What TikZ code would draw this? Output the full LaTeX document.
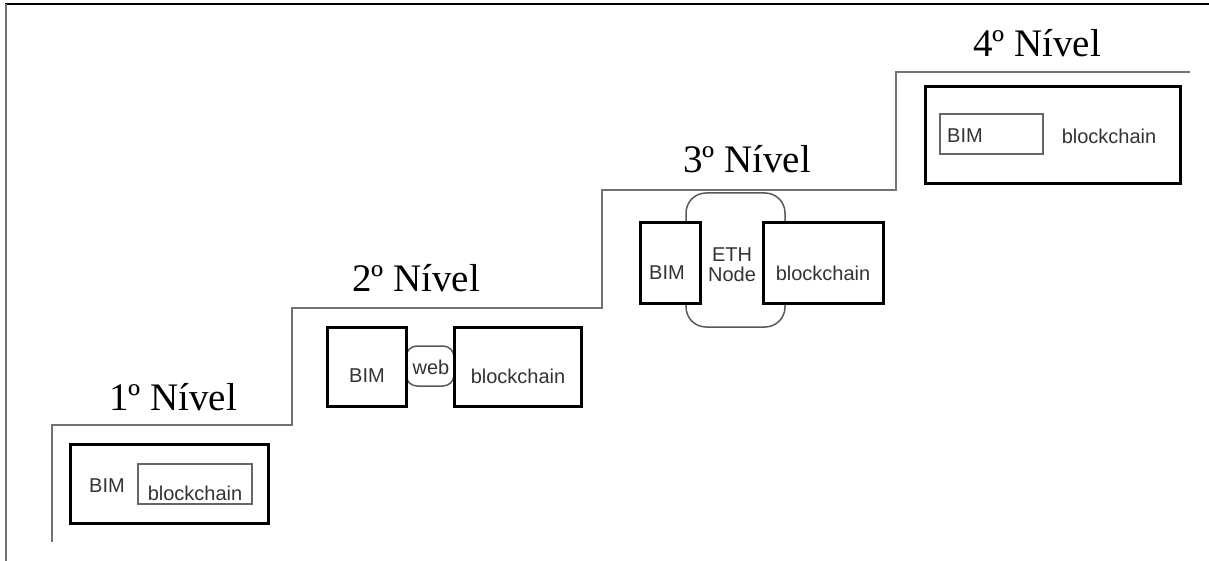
\documentclass[tikz,border=0pt]{standalone}
\usepackage{fontspec}
\setmainfont{Liberation Serif}
\setsansfont{Liberation Sans}
\begin{document}
\begin{tikzpicture}[x=1pt,y=-1pt,
  thickbox/.style={draw=black,line width=3pt,fill=white,inner sep=0pt},
  thinbox/.style={draw=black!60,line width=1.8pt,fill=white,inner sep=0pt},
  roundbox/.style={draw=black!65,line width=1.5pt,fill=white,rounded corners=11pt,inner sep=0pt},
  lbl/.style={font=\sffamily\fontsize{20}{23}\selectfont,text=black!80,inner sep=0pt},
  level/.style={font=\fontsize{39}{45}\selectfont,anchor=base,inner sep=0pt},
  stair/.style={draw=black!55,line width=2pt}]
\useasboundingbox (0,0) rectangle (1209,561);
% frame
\draw[black,line width=1.5pt] (5,4) -- (1209,4);
\draw[black!55,line width=1.5pt] (6,4) -- (6,561);
% staircase
\draw[stair] (52,542) -- (52,425) -- (292,425) -- (292,308) -- (602,308) -- (602,190) -- (896,190) -- (896,72) -- (1190,72);
% level labels
\node[level] (l1) at (173,410) {1º Nível};
\node[level] (l2) at (416,291) {2º Nível};
\node[level] (l3) at (747,173) {3º Nível};
\node[level] (l4) at (1037,57) {4º Nível};
% level 1
\node[thickbox,minimum width=198pt,minimum height=79pt] (o1) at (169,483.5) {};
\node[thinbox,minimum width=114pt,minimum height=40pt] (i1) at (195,484) {};
\node[lbl] (bim1) at (107,486) {BIM};
\node[lbl] (bc1) at (195,493) {blockchain};
% level 2
\node[roundbox,minimum width=48pt,minimum height=40pt] (web) at (430,366) {};
\node[thickbox,minimum width=79pt,minimum height=79pt] (b2) at (366.5,366.5) {};
\node[thickbox,minimum width=127pt,minimum height=79pt] (c2) at (517.5,366.5) {};
\node[lbl] (bim2) at (367,376) {BIM};
\node[lbl] (bc2) at (518,376) {blockchain};
\node[lbl] (webt) at (431,367) {web};
% level 3
\node[roundbox,rounded corners=20pt,minimum width=99pt,minimum height=134pt] (eth) at (735.5,260) {};
\node[thickbox,minimum width=60pt,minimum height=80pt] (b3) at (670,263) {};
\node[thickbox,minimum width=120pt,minimum height=80pt] (c3) at (823,263) {};
\node[lbl] (bim3) at (667,273) {BIM};
\node[lbl] (bc3) at (823,273) {blockchain};
\node[lbl,align=center] (etht) at (732,265) {ETH\\[-3pt]Node};
% level 4
\node[thickbox,minimum width=255pt,minimum height=97pt] (o4) at (1052.5,135.5) {};
\node[thinbox,minimum width=103pt,minimum height=40pt] (i4) at (991.5,134) {};
\node[lbl] (bim4) at (965,136) {BIM};
\node[lbl] (bc4) at (1109,136) {blockchain};
\end{tikzpicture}
\end{document}
